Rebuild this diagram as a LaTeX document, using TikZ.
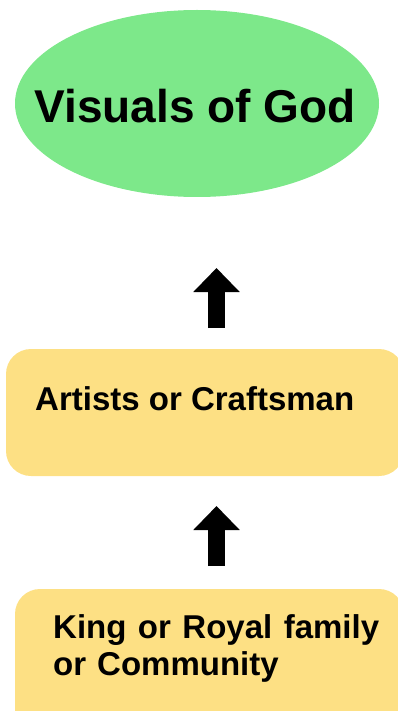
\documentclass[tikz,border=0pt]{standalone}
\usepackage{fontspec}
\setmainfont{Liberation Sans}
\usetikzlibrary{arrows.meta}
\definecolor{godgreen}{HTML}{7DE88A}
\definecolor{boxyellow}{HTML}{FDE084}
\tikzset{
  upblock/.style={line width=17pt, -{Triangle[width=45pt,length=24pt]}},
  ybox/.style={fill=boxyellow, draw=none, rounded corners=25pt, inner sep=0pt},
  lbl/.style={font=\bfseries\fontsize{33}{37}\selectfont, inner sep=0pt, anchor=base west}
}
\begin{document}
\begin{tikzpicture}[x=1pt,y=-1pt]
\useasboundingbox (0,0) rectangle (398,711);
\fill[godgreen] (197,103.5) ellipse [x radius=182, y radius=93.5];
\node[inner sep=0pt, anchor=base, font=\bfseries\fontsize{46}{55}\selectfont] (god) at (195,123) {Visuals of God};
% box 1
\path[ybox] (6,349) rectangle (404,476);
\node[inner sep=0pt, minimum width=398pt, minimum height=127pt] (box1) at (205,412.5) {};
\node[lbl] (t1) at (35,410) {Artists or Craftsman};
% box 2
\path[ybox] (15,589) rectangle (404,760);
\node[inner sep=0pt, minimum width=389pt, minimum height=122pt] (box2) at (209.5,650) {};
\node[lbl, text width=326pt, align=left] (t2) at (53,638)
  {\hbox to 326pt{King\hfill{} or\hfill{} Royal\hfill{} family}\\or Community};
% arrows
\coordinate (a1s) at (216.5,328);
\coordinate (a1e) at (216.5,268);
\coordinate (a2s) at (216.5,566);
\coordinate (a2e) at (216.5,506);
\draw[upblock] (a1s) -- (a1e);
\draw[upblock] (a2s) -- (a2e);
\end{tikzpicture}
\end{document}
